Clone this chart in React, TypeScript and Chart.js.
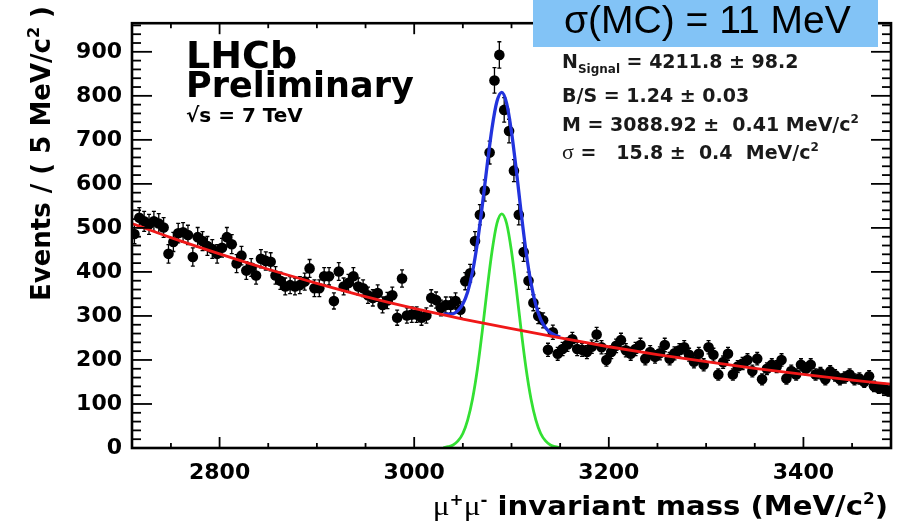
import React, { useEffect, useRef } from "react";
import { Chart, registerables } from "chart.js";

Chart.register(...registerables);

// ---------------- data ----------------
const binStart = 2710; // MeV, histogram lower edge
const binWidth = 5; // MeV per bin

// events per 5 MeV bin, 2710 .. 3490 MeV
const counts = [
  486, 523, 515, 508, 515, 510, 501, 441, 468, 488,
  490, 484, 434, 479, 470, 459, 452, 441, 455, 479,
  463, 419, 437, 403, 410, 392, 430, 425, 423, 392,
  380, 367, 370, 367, 370, 378, 408, 363, 363, 390,
  390, 334, 401, 367, 375, 390, 367, 363, 347, 341,
  352, 325, 335, 347, 296, 385, 301, 303, 303, 296,
  301, 341, 336, 318, 325, 325, 334, 314, 379, 397,
  470, 530, 585, 671, 835, 893, 768, 720, 630, 530,
  445, 380, 330, 300, 290, 223, 263, 214, 225, 235,
  247, 225, 223, 218, 230, 258, 229, 200, 218, 232,
  245, 222, 214, 225, 234, 203, 218, 207, 215, 234,
  203, 215, 222, 229, 212, 196, 214, 189, 229, 212,
  167, 195, 214, 167, 185, 192, 200, 175, 203, 156,
  180, 189, 185, 200, 158, 175, 167, 189, 180, 189,
  167, 170, 156, 174, 165, 156, 160, 167, 156, 158,
  150, 163, 140, 136, 135, 129,
];

// background fit (red)
const bkgMass = [2710, 2750, 2800, 2850, 2900, 2950, 3000, 3050, 3100, 3150, 3200, 3250, 3300, 3350, 3400, 3450, 3490];
const bkgFit = [510, 478, 441, 406, 374, 344, 317, 293, 271, 250, 230, 212, 196, 181, 167, 154, 145];

// total fit (blue)
const totalMass = [3030, 3035, 3040, 3045, 3050, 3055, 3060, 3065, 3070, 3075, 3080, 3085, 3090, 3095, 3100, 3105, 3110, 3115, 3120, 3125, 3130, 3135, 3140, 3145, 3150];
const totalFit = [304, 304, 305, 312, 327, 355, 401, 467, 551, 643, 727, 787, 808, 783, 718, 630, 533, 445, 375, 325, 292, 273, 262, 256, 252];

// signal fit (green)
const sigMass = totalMass;
const sigFit = [1, 3, 7, 16, 33, 64, 112, 180, 266, 361, 447, 510, 532, 510, 447, 361, 266, 180, 112, 64, 33, 16, 7, 3, 1];

const xMajorTicks = [2800, 3000, 3200, 3400];
const xMinorTicks = [2750, 2850, 2900, 2950, 3050, 3100, 3150, 3250, 3300, 3350, 3450];
const yMajorTicks = [0, 100, 200, 300, 400, 500, 600, 700, 800, 900];
const yMinorStep = 20;

const X_MIN = 2710;
const X_MAX = 3490;
const Y_MAX = 965;

// ---------------- styles ----------------
const SANS = "'DejaVu Sans', sans-serif";
const SERIF = "'Liberation Serif', serif";
const bold = (px: number) => `bold ${px}px ${SANS}`;

type Part = { t: string; font: string; dy?: number };

function richWidth(ctx: CanvasRenderingContext2D, parts: Part[]) {
  let w = 0;
  for (const p of parts) {
    ctx.font = p.font;
    w += ctx.measureText(p.t).width;
  }
  return w;
}

function drawRich(ctx: CanvasRenderingContext2D, parts: Part[], x: number, y: number, align: "left" | "right") {
  const total = richWidth(ctx, parts);
  let cx = align === "right" ? x - total : x;
  ctx.textAlign = "left";
  ctx.textBaseline = "alphabetic";
  for (const p of parts) {
    ctx.font = p.font;
    ctx.fillText(p.t, cx, y + (p.dy || 0));
    cx += ctx.measureText(p.t).width;
  }
}

const errorBars = {
  id: "errorBars",
  beforeDatasetsDraw(chart: any) {
    const { ctx, scales } = chart;
    const xs = scales.x;
    const ys = scales.y;
    ctx.save();
    ctx.strokeStyle = "#000";
    ctx.lineWidth = 1.3;
    counts.forEach((c, i) => {
      const m = binStart + binWidth * (i + 0.5);
      const e = Math.sqrt(c);
      const px = xs.getPixelForValue(m);
      const y1 = ys.getPixelForValue(c + e);
      const y2 = ys.getPixelForValue(c - e);
      ctx.beginPath();
      ctx.moveTo(px, y1);
      ctx.lineTo(px, y2);
      ctx.moveTo(px - 2, y1);
      ctx.lineTo(px + 2, y1);
      ctx.moveTo(px - 2, y2);
      ctx.lineTo(px + 2, y2);
      ctx.stroke();
    });
    ctx.restore();
  },
};

const overlay = {
  id: "overlay",
  afterDraw(chart: any) {
    const { ctx, chartArea: a, scales } = chart;
    const xs = scales.x;
    const ys = scales.y;
    ctx.save();
    ctx.strokeStyle = "#000";
    const seg = (x1: number, y1: number, x2: number, y2: number) => {
      ctx.beginPath();
      ctx.moveTo(x1, y1);
      ctx.lineTo(x2, y2);
      ctx.stroke();
    };
    // ticks (inside the frame, ROOT style)
    ctx.lineWidth = 1.8;
    for (const v of xMajorTicks) {
      const p = xs.getPixelForValue(v);
      seg(p, a.bottom, p, a.bottom - 11);
      seg(p, a.top, p, a.top + 11);
    }
    for (const v of xMinorTicks) {
      const p = xs.getPixelForValue(v);
      seg(p, a.bottom, p, a.bottom - 5);
      seg(p, a.top, p, a.top + 5);
    }
    for (let v = 0; v <= Y_MAX; v += yMinorStep) {
      const p = ys.getPixelForValue(v);
      const major = yMajorTicks.includes(v);
      const len = major ? 20 : 9;
      seg(a.left, p, a.left + len, p);
      seg(a.right, p, a.right - len, p);
    }
    // frame
    ctx.lineWidth = 2.6;
    ctx.strokeRect(a.left, a.top, a.right - a.left, a.bottom - a.top);

    ctx.fillStyle = "#000";
    // x axis title
    ctx.save();
    ctx.translate(888, 515);
    ctx.scale(1.12, 1);
    drawRich(
      ctx,
      [
        { t: "\u03bc", font: `28px ${SERIF}` },
        { t: "+", font: bold(15), dy: -10 },
        { t: "\u03bc", font: `28px ${SERIF}` },
        { t: "-", font: bold(15), dy: -10 },
        { t: " invariant mass (MeV/c", font: bold(26) },
        { t: "2", font: bold(15), dy: -11 },
        { t: ")", font: bold(26) },
      ],
      0,
      0,
      "right"
    );
    ctx.restore();

    // y axis title (rotated)
    ctx.save();
    ctx.translate(50, 6);
    ctx.rotate(-Math.PI / 2);
    drawRich(
      ctx,
      [
        { t: "Events / ( 5 MeV/c", font: bold(26) },
        { t: "2", font: bold(16), dy: -11 },
        { t: " )", font: bold(26) },
      ],
      0,
      0,
      "right"
    );
    ctx.restore();

    // experiment labels
    drawRich(ctx, [{ t: "LHCb", font: bold(38) }], 186, 68, "left");
    drawRich(ctx, [{ t: "Preliminary", font: bold(35) }], 186, 97, "left");
    drawRich(ctx, [{ t: "\u221as = 7 TeV", font: bold(20) }], 186, 122, "left");

    // fit results
    ctx.fillStyle = "#1a1a1a";
    drawRich(
      ctx,
      [
        { t: "N", font: bold(19) },
        { t: "Signal", font: bold(12), dy: 5 },
        { t: " = 4211.8 \u00b1 98.2", font: bold(19) },
      ],
      562,
      68,
      "left"
    );
    drawRich(ctx, [{ t: "B/S = 1.24 \u00b1 0.03", font: bold(19) }], 562, 102, "left");
    drawRich(
      ctx,
      [
        { t: "M = 3088.92 \u00b1  0.41 MeV/c", font: bold(19) },
        { t: "2", font: bold(12), dy: -8 },
      ],
      562,
      131,
      "left"
    );
    drawRich(
      ctx,
      [
        { t: "\u03c3", font: `22px ${SERIF}` },
        { t: " =   15.8 \u00b1  0.4  MeV/c", font: bold(19) },
        { t: "2", font: bold(12), dy: -8 },
      ],
      562,
      159,
      "left"
    );

    // highlighted box
    ctx.fillStyle = "#82c3f6";
    ctx.fillRect(533, 0, 345, 47);
    ctx.fillStyle = "#000";
    drawRich(ctx, [{ t: "\u03c3(MC) = 11 MeV", font: `39px 'Liberation Sans', sans-serif` }], 564, 33, "left");

    ctx.restore();
  },
};

export default function App() {
  const ref = useRef<HTMLCanvasElement>(null);

  useEffect(() => {
    const points = counts.map((c, i) => ({ x: binStart + binWidth * (i + 0.5), y: c }));
    const bkg = bkgMass.map((m, i) => ({ x: m, y: bkgFit[i] }));
    const tot = totalMass.map((m, i) => ({ x: m, y: totalFit[i] }));
    const sig = sigMass.map((m, i) => ({ x: m, y: sigFit[i] }));

    const tickFont = { family: SANS, size: 22, weight: "bold" as const };

    const chart = new Chart(ref.current as HTMLCanvasElement, {
      type: "scatter",
      data: {
        datasets: [
          {
            label: "background",
            data: bkg,
            showLine: true,
            borderColor: "#f01818",
            borderWidth: 2.8,
            pointRadius: 0,
            cubicInterpolationMode: "monotone",
          } as any,
          {
            label: "total",
            data: tot,
            showLine: true,
            borderColor: "#2233dd",
            borderWidth: 3.3,
            pointRadius: 0,
            cubicInterpolationMode: "monotone",
          } as any,
          {
            label: "signal",
            data: sig,
            showLine: true,
            borderColor: "#33e033",
            borderWidth: 2.8,
            pointRadius: 0,
            cubicInterpolationMode: "monotone",
          } as any,
          {
            label: "data",
            data: points,
            showLine: false,
            pointRadius: 5.3,
            pointBackgroundColor: "#000",
            pointBorderWidth: 0,
            pointHoverRadius: 5.3,
          } as any,
        ],
      },
      options: {
        responsive: false,
        animation: false,
        devicePixelRatio: 1,
        layout: { padding: { top: 12, right: 13, left: 0, bottom: 0 } },
        plugins: {
          legend: { display: false },
          tooltip: { enabled: false },
          title: { display: false },
        },
        events: [],
        scales: {
          x: {
            type: "linear",
            min: X_MIN,
            max: X_MAX,
            grid: { display: false, drawTicks: false },
            border: { display: false },
            afterBuildTicks: (s: any) => {
              s.ticks = xMajorTicks.map((v) => ({ value: v }));
            },
            afterFit: (s: any) => {
              s.height = 79;
            },
            ticks: {
              font: tickFont,
              color: "#000",
              padding: 12,
              maxRotation: 0,
              autoSkip: false,
              callback: (v: any) => String(v),
            },
          },
          y: {
            type: "linear",
            min: 0,
            max: Y_MAX,
            grid: { display: false, drawTicks: false },
            border: { display: false },
            afterBuildTicks: (s: any) => {
              s.ticks = yMajorTicks.map((v) => ({ value: v }));
            },
            afterFit: (s: any) => {
              s.width = 132;
            },
            ticks: {
              font: tickFont,
              color: "#000",
              padding: 10,
              autoSkip: false,
              callback: (v: any) => String(v),
            },
          },
        },
      } as any,
      plugins: [errorBars, overlay],
    });
    return () => chart.destroy();
  }, []);

  return (
    <div style={{ position: "fixed", left: 0, top: 0, width: 904, height: 527, background: "#fff" }}>
      <canvas ref={ref} width={904} height={527} style={{ display: "block", width: 904, height: 527 }} />
    </div>
  );
}
